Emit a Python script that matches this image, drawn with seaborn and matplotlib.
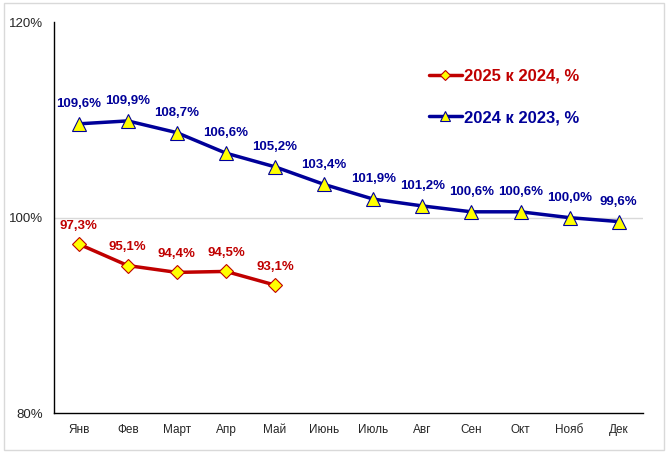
import matplotlib
matplotlib.use('Agg')
import matplotlib.pyplot as plt
import seaborn as sns
import pandas as pd
from matplotlib.patches import Rectangle

months = ['Янв', 'Фев', 'Март', 'Апр', 'Май', 'Июнь', 'Июль', 'Авг', 'Сен', 'Окт', 'Нояб', 'Дек']
idx_2025 = [97.3, 95.1, 94.4, 94.5, 93.1]
idx_2024 = [109.6, 109.9, 108.7, 106.6, 105.2, 103.4, 101.9, 101.2, 100.6, 100.6, 100.0, 99.6]
label_2025 = '2025 к 2024, %'
label_2024 = '2024 к 2023, %'

sns.set_style('white')
plt.rcParams['font.family'] = ['Liberation Sans', 'DejaVu Sans']

red = '#C00000'
blue = '#000099'

fig = plt.figure(figsize=(6.68, 4.53), dpi=100)
ax = fig.add_axes([0.081, 0.088, 0.882, 0.863])

df24 = pd.DataFrame({'x': range(len(idx_2024)), 'v': idx_2024})
df25 = pd.DataFrame({'x': range(len(idx_2025)), 'v': idx_2025})

sns.lineplot(data=df25, x='x', y='v', ax=ax, color=red, lw=2.5, marker='D',
             markersize=7, markerfacecolor='#FFFF00', markeredgecolor=red,
             markeredgewidth=0.8, label=label_2025)
sns.lineplot(data=df24, x='x', y='v', ax=ax, color=blue, lw=2.5, marker='^',
             markersize=10, markerfacecolor='#FFFF00', markeredgecolor=blue,
             markeredgewidth=0.8, label=label_2024)

for i, v in enumerate(idx_2024):
    ax.annotate(f'{v:.1f}%'.replace('.', ','), (i, v), xytext=(0, 10),
                textcoords='offset points', ha='center', va='bottom',
                color=blue, fontsize=9.5, fontweight='bold')
for i, v in enumerate(idx_2025):
    ax.annotate(f'{v:.1f}%'.replace('.', ','), (i, v), xytext=(0, 9),
                textcoords='offset points', ha='center', va='bottom',
                color=red, fontsize=9.5, fontweight='bold')

ax.set_xlim(-0.5, len(months) - 0.5)
ax.set_ylim(80, 120)
ax.set_yticks([80, 100, 120])
ax.set_yticklabels(['80%', '100%', '120%'], fontsize=9.5)
ax.set_xticks(range(len(months)))
ax.set_xticklabels(months, fontsize=8.5)
ax.tick_params(axis='both', length=0, pad=8)
ax.set_xlabel('')
ax.set_ylabel('')
ax.axhline(100, color='#D9D9D9', lw=1, zorder=0)

for s in ['top', 'right']:
    ax.spines[s].set_visible(False)
for s in ['left', 'bottom']:
    ax.spines[s].set_color('black')
    ax.spines[s].set_linewidth(1)

leg = ax.legend(loc='upper left', bbox_to_anchor=(0.61, 0.92), frameon=False,
                labelspacing=1.6, handlelength=2.0, handletextpad=0.1,
                markerscale=0.75, prop={'size': 12, 'weight': 'bold'})
for t, c in zip(leg.get_texts(), [red, blue]):
    t.set_color(c)

fig.patches.append(Rectangle((0.006, 0.006), 0.988, 0.988, transform=fig.transFigure,
                             fill=False, edgecolor='#D9D9D9', lw=1))

fig.savefig('out.png', dpi=100)
